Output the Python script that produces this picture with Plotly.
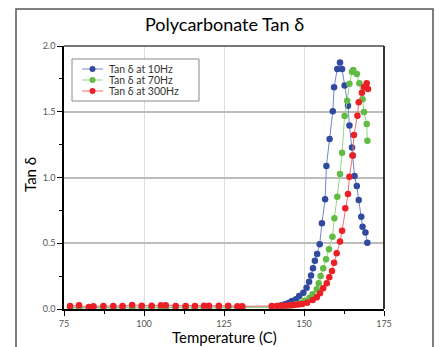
import plotly.graph_objects as go

# ---- data ----
low_T = [76.9, 79.7, 82.8, 84.2, 87.3, 90.4, 93.3, 96.3, 99.3, 102.4, 105.3, 106.8,
         109.9, 113.0, 115.9, 118.75, 120.3, 123.4, 126.3, 129.2, 130.7]

red_low = [0.023, 0.028, 0.015, 0.020, 0.023, 0.023, 0.023, 0.030, 0.025, 0.025, 0.028,
           0.028, 0.023, 0.023, 0.023, 0.025, 0.025, 0.025, 0.025, 0.020, 0.020]
blue_low = [0.012, 0.012, 0.011, 0.012, 0.012, 0.012, 0.013, 0.012, 0.012, 0.012, 0.012,
            0.012, 0.012, 0.012, 0.013, 0.012, 0.012, 0.012, 0.012, 0.012, 0.012]
green_low = [0.007, 0.007, 0.006, 0.007, 0.007, 0.007, 0.007, 0.007, 0.007, 0.007, 0.007,
             0.007, 0.007, 0.007, 0.007, 0.007, 0.007, 0.007, 0.007, 0.007, 0.007]

blue_T_hi = [140.0, 141.2, 142.3, 143.3, 144.3, 145.3, 146.25, 147.5, 148.5, 149.8, 150.8,
             151.6, 152.2, 152.8, 153.4, 154.1, 154.9, 155.6, 156.6, 157.0, 158.0, 159.0,
             159.4, 160.4, 161.25, 161.9, 162.7, 163.75, 164.2, 165.0, 165.2, 165.8, 166.5,
             167.1, 167.9, 168.3, 169.2, 169.8]
blue_hi = [0.015, 0.018, 0.024, 0.030, 0.038, 0.048, 0.061, 0.074, 0.099, 0.124, 0.162,
           0.208, 0.255, 0.310, 0.367, 0.418, 0.492, 0.652, 0.834, 1.087, 1.293, 1.503,
           1.686, 1.825, 1.875, 1.825, 1.700, 1.546, 1.395, 1.228, 1.167, 1.011, 0.935,
           0.829, 0.702, 0.626, 0.582, 0.504]

green_T_hi = [140.0, 141.5, 143.0, 144.5, 146.0, 147.5, 149.0, 150.2, 151.7, 152.7, 154.0,
              154.6, 155.2, 156.0, 156.9, 157.8, 158.9, 159.5, 160.4, 161.25, 161.9, 162.7,
              163.5, 164.2, 165.0, 165.4, 166.5, 167.3, 168.3, 168.75, 169.6, 169.8]
green_hi = [0.008, 0.011, 0.015, 0.020, 0.027, 0.036, 0.048, 0.063, 0.086, 0.112, 0.150,
            0.195, 0.251, 0.310, 0.378, 0.455, 0.550, 0.690, 0.854, 1.027, 1.189, 1.468,
            1.584, 1.713, 1.805, 1.817, 1.787, 1.716, 1.595, 1.498, 1.407, 1.280]

red_T_hi = [139.9, 141.5, 143.0, 144.3, 145.6, 146.9, 148.2, 149.4, 151.0, 152.7, 154.0,
            155.0, 156.0, 157.1, 157.9, 158.75, 159.4, 160.2, 161.25, 161.9, 162.9, 163.75,
            164.2, 165.2, 165.6, 166.7, 167.1, 168.1, 168.75, 169.6, 170.0]
red_hi = [0.022, 0.023, 0.024, 0.026, 0.029, 0.031, 0.034, 0.038, 0.048, 0.068, 0.089,
          0.119, 0.157, 0.195, 0.241, 0.289, 0.352, 0.424, 0.513, 0.595, 0.766, 0.875,
          1.006, 1.167, 1.323, 1.470, 1.572, 1.645, 1.688, 1.716, 1.673]

series_names = ["Tan δ at 10Hz", "Tan δ at 70Hz", "Tan δ at 300Hz"]
series_x = [low_T + blue_T_hi, low_T + green_T_hi, low_T + red_T_hi]
series_y = [blue_low + blue_hi, green_low + green_hi, red_low + red_hi]
marker_colors = ["#2f4a9e", "#62bb45", "#ec1f26"]
line_colors = ["#7186cc", "#98d67f", "#f07070"]

FONT = "Lato, 'Noto Sans', sans-serif"

L, R, T, B = 64, 56, 46, 38
W, H = 440, 347
pw, ph = W - L - R, H - T - B

def px(xp):
    return (xp - L) / pw

def py(yp):
    return 1 - (yp - T) / ph

fig = go.Figure()
for name, xs, ys, mc, lc in zip(series_names, series_x, series_y, marker_colors, line_colors):
    fig.add_trace(go.Scatter(x=xs, y=ys, name=name, mode="lines+markers",
                             line=dict(color=lc, width=1),
                             marker=dict(color=mc, size=6.5), showlegend=False))

shapes = [
    dict(type="rect", xref="paper", yref="paper", x0=px(16), x1=px(433),
         y0=py(9), y1=py(400), line=dict(color="#555", width=1.5)),
    dict(type="line", xref="paper", yref="paper", x0=0, x1=1, y0=1, y1=1,
         line=dict(color="#777", width=2)),
    dict(type="line", xref="paper", yref="paper", x0=1, x1=1, y0=0, y1=1,
         line=dict(color="#333", width=2)),
    # legend box
    dict(type="rect", xref="paper", yref="paper", x0=px(72), x1=px(199),
         y0=py(59), y1=py(101), line=dict(color="#888", width=1), fillcolor="white"),
]
annotations = [
    dict(text="Polycarbonate Tan δ", xref="paper", yref="paper", x=px(224.5), y=py(24),
         xanchor="center", yanchor="middle", showarrow=False,
         font=dict(size=18, color="#000", family=FONT)),
    dict(text="Temperature (C)", xref="paper", yref="paper", x=px(224), y=py(337),
         xanchor="center", yanchor="middle", showarrow=False,
         font=dict(size=15, color="#000", family=FONT)),
    dict(text="Tan δ", xref="paper", yref="paper", x=px(30), y=py(175),
         xanchor="center", yanchor="middle", showarrow=False, textangle=-90,
         font=dict(size=15, color="#000", family=FONT)),
]
for i, (name, mc, lc) in enumerate(zip(series_names, marker_colors, line_colors)):
    yy = 69 + i * 11
    shapes.append(dict(type="line", xref="paper", yref="paper", x0=px(82), x1=px(103),
                       y0=py(yy), y1=py(yy), line=dict(color=lc, width=1)))
    shapes.append(dict(type="circle", xref="paper", yref="paper", x0=px(89.5), x1=px(95.5),
                       y0=py(yy + 3), y1=py(yy - 3), line=dict(color=mc, width=0),
                       fillcolor=mc))
    annotations.append(dict(text=name, xref="paper", yref="paper", x=px(107), y=py(yy),
                            xanchor="left", yanchor="middle", showarrow=False,
                            font=dict(size=10.5, color="#333", family=FONT)))

fig.update_layout(
    width=W, height=H,
    margin=dict(l=L, r=R, t=T, b=B),
    paper_bgcolor="white", plot_bgcolor="white",
    font=dict(family=FONT, color="#555"),
    showlegend=False,
    xaxis=dict(range=[75, 175], dtick=25, tick0=75, showgrid=True,
               gridcolor="#dedede", gridwidth=1,
               showline=True, linecolor="black", linewidth=1.5,
               ticks="outside", ticklen=5, tickcolor="black", tickwidth=1,
               tickfont=dict(size=9, color="#555"),
               minor=dict(dtick=12.5, ticks="outside", ticklen=3, tickcolor="black",
                          showgrid=False),
               zeroline=False),
    yaxis=dict(range=[0, 2], dtick=0.5, tickformat=".1f", showgrid=True,
               gridcolor="#bcbcbc", gridwidth=1.5,
               showline=True, linecolor="black", linewidth=1.5,
               ticks="outside", ticklen=5, tickcolor="black", tickwidth=1,
               tickfont=dict(size=9, color="#555"),
               minor=dict(dtick=0.25, ticks="outside", ticklen=3, tickcolor="black",
                          showgrid=False),
               zeroline=False),
    shapes=shapes,
    annotations=annotations,
)

fig.write_html("out.html", config={"displayModeBar": False},
               post_script="document.body.style.margin='0';document.body.style.overflow='hidden';")
